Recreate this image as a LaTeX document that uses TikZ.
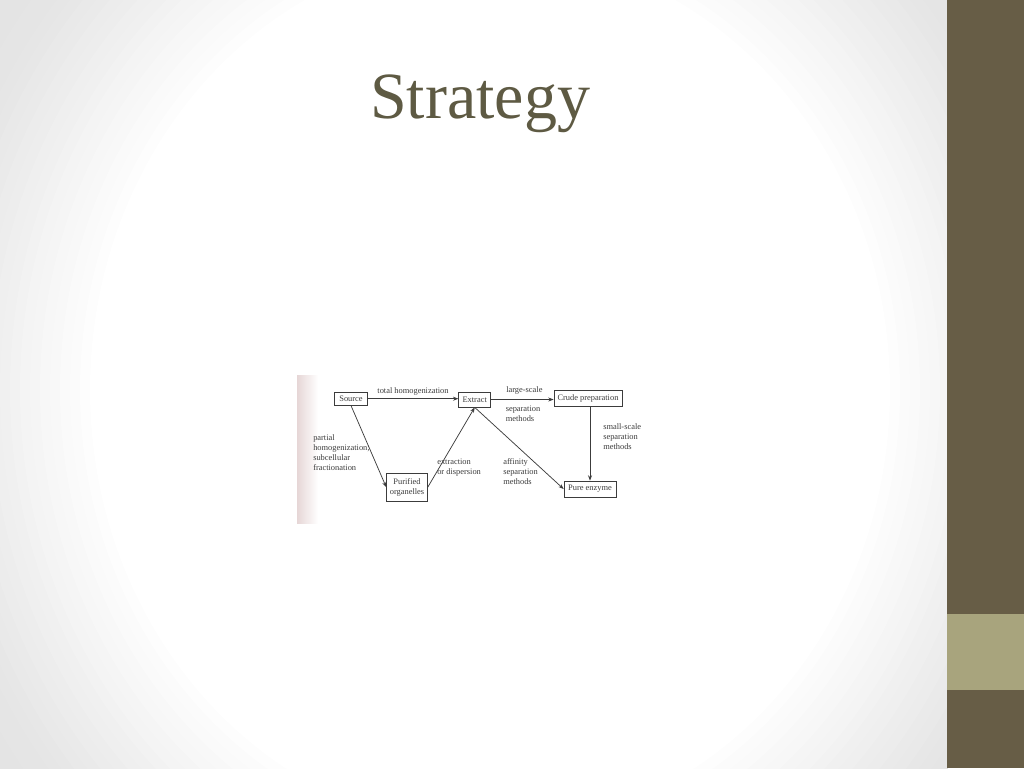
\documentclass[tikz,border=0pt]{standalone}
\usepackage{fontspec}
\setmainfont{Liberation Serif}
\usetikzlibrary{arrows.meta}
\definecolor{sidedark}{HTML}{675D46}
\definecolor{sidelight}{HTML}{A8A47D}
\definecolor{titlecol}{HTML}{5E5A43}
\definecolor{ink}{HTML}{3C3C3C}
\definecolor{cornergray}{HTML}{DCDCDC}
\definecolor{pinkish}{HTML}{E6D6D6}
\tikzset{
  box/.style={draw=ink, line width=0.55pt, inner sep=0pt, font=\fontsize{6.3}{7.6}\selectfont, text=ink, align=center},
  lbl/.style={inner sep=0pt, font=\fontsize{6.3}{7.6}\selectfont, text=ink, align=left},
  arr/.style={draw=ink, line width=0.55pt, -{Stealth[length=4pt,width=3pt]}}
}
\begin{document}
\begin{tikzpicture}[x=0.75pt,y=-0.75pt]
\useasboundingbox (0,0) rectangle (1024,768);
% background: stepped radial gradient
\begin{scope}
  \clip (0,0) rectangle (947,768);
  \fill[cornergray] (0,0) rectangle (947,768);
  \foreach \r in {820,810,...,400}{
    \pgfmathtruncatemacro\g{\r<560 ? 255-25*(\r-400)/160 : 230-10*(\r-560)/260}
    \definecolor{bgc}{RGB}{\g,\g,\g}
    \fill[bgc] (490,390) ellipse [x radius=\r, y radius=1.1*\r];
  }
\end{scope}
% sidebar
\fill[sidedark] (947,0) rectangle (1024,768);
\fill[sidelight] (947,614) rectangle (1024,690);
% title
\node[anchor=base, text=titlecol, inner sep=0pt, font=\fontsize{49.5}{58}\selectfont] (title) at (480,118) {Strategy};
% picture area
\fill[white] (297,375) rectangle (648,523);
\shade[left color=pinkish, right color=white] (297,375) rectangle (318,523);
% boxes
\node[box, minimum width=24.75pt, minimum height=9.75pt] (src) at (351,398.7) {Source};
\node[box, minimum width=24pt, minimum height=11.25pt] (ext) at (474.7,399.5) {Extract};
\node[box, minimum width=51pt, minimum height=12pt] (crude) at (588,398.5) {Crude preparation};
\node[box, minimum width=30.5pt, minimum height=20.5pt] (pur) at (407,487.3) {Purified\\organelles};
\node[box, minimum width=39pt, minimum height=12pt] (pure) at (590,489) {Pure enzyme};
% connectors
\draw[arr] (src.east) -- (src.east -| ext.west);
\draw[arr] (ext.east) -- (ext.east -| crude.west);
\draw[arr] (src.south) -- (pur.west);
\draw[arr] (pur.east) -- (ext.south);
\draw[arr] (ext.south) -- (pure.west);
\draw[arr] (pure.north |- crude.south) -- (pure.north);
% labels
\node[lbl] (l1) at (413,391) {total homogenization};
\node[lbl, anchor=west] (l2) at (506,390.5) {large-scale};
\node[lbl, anchor=north west] (l3) at (505.5,405.5) {separation\\methods};
\node[lbl, anchor=north west] (l4) at (603,423) {small-scale\\separation\\methods};
\node[lbl, anchor=north west] (l5) at (313,434) {partial\\homogenization;\\subcellular\\fractionation};
\node[lbl, anchor=north west] (l6) at (437,458.5) {extraction\\or dispersion};
\node[lbl, anchor=north west] (l7) at (503,458.5) {affinity\\separation\\methods};
\end{tikzpicture}
\end{document}
